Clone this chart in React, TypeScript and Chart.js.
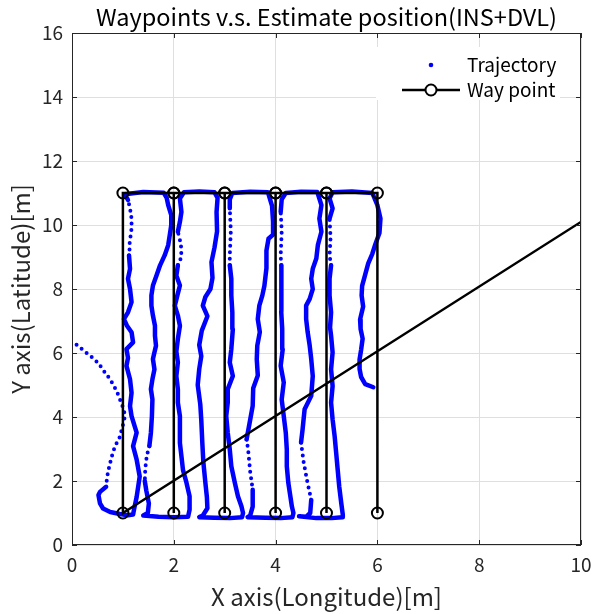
import { useEffect, useRef } from "react";
import { Chart, registerables } from "chart.js";

Chart.register(...registerables);

const FONT = '"Noto Sans CJK JP", "Noto Sans", sans-serif';

const chartTitle = "Waypoints v.s. Estimate position(INS+DVL)";
const xAxisTitle = "X axis(Longitude)[m]";
const yAxisTitle = "Y axis(Latitude)[m]";
const trajectoryLabel = "Trajectory";
const waypointLabel = "Way point";

const xTicks = [0, 2, 4, 6, 8, 10];
const yTicks = [0, 2, 4, 6, 8, 10, 12, 14, 16];

// Waypoint route (first point lies beyond the axes, so only the line toward it shows)
const waypoints: [number, number][] = [
  [12, 12.12],
  [1, 1], [1, 11], [2, 11], [2, 1], [2, 11], [3, 11], [3, 1], [3, 11],
  [4, 11], [4, 1], [4, 11], [5, 11], [5, 1], [5, 11], [6, 11], [6, 1],
];

// Estimated trajectory: [x, y, fast] — fast = 1 means sparse sampling toward next point
const trajectory: [number, number, number][] = [
  [0.09, 6.26, 1], [0.25, 6.05, 1], [0.39, 5.87, 1], [0.52, 5.68, 1], [0.61, 5.47, 1],
  [0.71, 5.26, 1], [0.8, 5.04, 1], [0.88, 4.8, 1], [0.95, 4.52, 1], [1.02, 4.22, 1],
  [1.04, 4.02, 1], [1.0, 3.75, 1], [0.94, 3.38, 1], [0.84, 3.07, 1], [0.78, 2.76, 1],
  [0.73, 2.44, 1], [0.69, 2.13, 1], [0.67, 1.82, 0],
  [0.55, 1.66, 0], [0.52, 1.56, 0], [0.55, 1.3, 0], [0.61, 1.14, 0], [0.75, 1.03, 0],
  [0.94, 0.97, 0], [1.1, 0.93, 0], [1.2, 0.95, 0],
  [1.22, 1.12, 0], [1.27, 1.5, 0], [1.33, 2.14, 0], [1.27, 2.67, 0], [1.2, 3.09, 0],
  [1.27, 3.51, 0], [1.17, 4.03, 0], [1.14, 4.34, 0], [1.17, 4.76, 0], [1.14, 5.18, 0],
  [1.07, 5.6, 0], [1.1, 5.85, 0], [1.07, 6.12, 0], [1.2, 6.33, 0], [1.17, 6.65, 0],
  [1.08, 6.85, 0], [1.02, 7.06, 0], [1.1, 7.27, 0], [1.17, 7.59, 0], [1.14, 8.0, 0],
  [1.1, 8.32, 0], [1.14, 8.63, 0], [1.12, 9.05, 1], [1.13, 9.4, 1], [1.17, 9.89, 1],
  [1.17, 10.2, 1], [1.14, 10.52, 1], [1.1, 10.78, 0], [1.04, 10.96, 0],
  [1.4, 11.03, 0], [1.8, 11.01, 0],
  [1.86, 10.85, 0], [1.89, 10.62, 0], [1.95, 10.31, 0], [1.95, 10.0, 0], [1.92, 9.68, 0],
  [1.89, 9.37, 0], [1.82, 9.05, 0], [1.73, 8.74, 0], [1.66, 8.42, 0], [1.59, 8.11, 0],
  [1.56, 7.8, 0], [1.56, 7.48, 0], [1.59, 7.17, 0], [1.63, 6.85, 0], [1.63, 6.54, 0],
  [1.65, 6.23, 0], [1.61, 5.95, 0], [1.59, 5.81, 0], [1.62, 5.49, 0], [1.58, 5.18, 0],
  [1.55, 4.87, 0], [1.58, 4.55, 0], [1.57, 4.03, 0], [1.55, 3.51, 0], [1.52, 3.09, 1],
  [1.47, 2.8, 1], [1.44, 2.4, 1], [1.43, 2.0, 0], [1.46, 1.7, 0], [1.51, 1.3, 0],
  [1.49, 1.0, 0], [1.4, 0.92, 0],
  [1.7, 0.88, 0], [2.0, 0.87, 0], [2.28, 0.88, 0],
  [2.31, 1.1, 0], [2.31, 1.52, 0], [2.25, 1.94, 0], [2.18, 2.35, 0], [2.15, 2.77, 0],
  [2.12, 3.19, 0], [2.12, 3.61, 0], [2.12, 4.03, 0], [2.08, 4.45, 0], [2.08, 4.87, 0],
  [2.05, 5.28, 0], [2.08, 5.71, 0], [2.05, 6.05, 0], [2.08, 6.44, 0], [2.12, 6.85, 0],
  [2.08, 7.17, 0], [2.02, 7.48, 0], [2.07, 7.8, 0], [2.12, 8.11, 0], [2.05, 8.42, 0],
  [2.08, 8.74, 1], [2.15, 9.0, 1], [2.14, 9.4, 1], [2.08, 9.79, 0], [2.12, 10.1, 0],
  [2.15, 10.41, 0], [2.12, 10.83, 0], [2.2, 11.02, 0],
  [2.5, 11.05, 0], [2.8, 11.02, 0],
  [2.86, 10.85, 0], [2.84, 10.4, 0], [2.85, 9.8, 0], [2.8, 9.3, 0], [2.74, 8.84, 0],
  [2.76, 8.35, 0], [2.72, 8.0, 0], [2.62, 7.75, 0], [2.57, 7.48, 0], [2.66, 7.15, 0],
  [2.55, 6.7, 0], [2.5, 6.25, 0], [2.54, 5.9, 0], [2.5, 5.5, 0], [2.47, 5.0, 0],
  [2.52, 4.4, 0], [2.54, 3.9, 0], [2.56, 3.2, 0], [2.58, 2.6, 0], [2.62, 1.95, 0],
  [2.65, 1.5, 0], [2.66, 1.15, 0], [2.57, 0.92, 0], [2.5, 0.87, 0],
  [2.8, 0.85, 0], [3.1, 0.84, 0], [3.34, 0.87, 0],
  [3.36, 1.0, 0], [3.33, 1.2, 0], [3.26, 1.52, 0], [3.2, 1.94, 0], [3.13, 2.46, 0],
  [3.1, 2.98, 0], [3.06, 3.51, 0], [3.03, 4.03, 0], [3.06, 4.45, 0], [3.06, 4.87, 0],
  [3.16, 5.28, 0], [3.1, 5.7, 0], [3.13, 6.12, 0], [3.16, 6.75, 0], [3.15, 7.27, 0],
  [3.13, 7.8, 0], [3.13, 8.32, 0], [3.1, 8.74, 1], [3.1, 9.05, 1], [3.12, 9.8, 1],
  [3.1, 10.52, 0], [3.1, 10.8, 0], [3.15, 11.0, 0],
  [3.5, 11.04, 0], [3.85, 11.02, 0],
  [3.93, 10.6, 0], [3.95, 10.1, 0], [3.95, 9.7, 0], [3.86, 9.57, 0], [3.82, 9.2, 0],
  [3.82, 8.65, 0], [3.78, 8.1, 0], [3.74, 7.8, 0], [3.68, 7.48, 0], [3.65, 7.06, 0],
  [3.69, 6.65, 0], [3.64, 6.23, 0], [3.63, 5.8, 0], [3.65, 5.3, 0], [3.56, 4.9, 0],
  [3.55, 4.35, 0], [3.49, 3.82, 0], [3.43, 3.3, 1], [3.46, 2.98, 1], [3.5, 2.3, 1],
  [3.55, 1.73, 0], [3.55, 1.2, 0], [3.5, 0.92, 0], [3.45, 0.87, 0],
  [3.8, 0.85, 0], [4.1, 0.84, 0], [4.33, 0.87, 0],
  [4.35, 1.0, 0], [4.32, 1.2, 0], [4.29, 1.52, 0], [4.25, 1.94, 0], [4.22, 2.46, 0],
  [4.22, 2.98, 0], [4.2, 3.51, 0], [4.16, 4.03, 0], [4.12, 4.55, 0], [4.16, 5.08, 0],
  [4.1, 5.6, 0], [4.14, 6.12, 0], [4.13, 6.75, 0], [4.11, 7.3, 0], [4.12, 7.8, 0],
  [4.11, 8.3, 0], [4.11, 8.74, 1], [4.1, 9.05, 1], [4.12, 9.8, 1], [4.1, 10.41, 0],
  [4.12, 10.8, 0], [4.2, 11.0, 0],
  [4.5, 11.04, 0], [4.82, 11.03, 0],
  [4.9, 10.62, 0], [4.86, 10.2, 0], [4.9, 9.79, 0], [4.83, 9.37, 0], [4.8, 8.95, 0],
  [4.73, 8.63, 0], [4.7, 8.32, 0], [4.73, 8.0, 0], [4.67, 7.69, 0], [4.6, 7.48, 0],
  [4.6, 7.06, 0], [4.63, 6.65, 0], [4.67, 6.23, 0], [4.7, 5.81, 0], [4.73, 5.28, 0],
  [4.7, 4.66, 0], [4.57, 4.24, 0], [4.53, 3.61, 0], [4.5, 3.2, 1], [4.55, 2.6, 1],
  [4.62, 2.0, 1], [4.7, 1.41, 0], [4.68, 1.0, 0], [4.6, 0.88, 0], [4.46, 0.9, 0],
  [4.8, 0.84, 0], [5.1, 0.84, 0], [5.31, 0.87, 0],
  [5.32, 0.95, 0], [5.29, 1.31, 0], [5.25, 1.83, 0], [5.22, 2.35, 0], [5.19, 2.88, 0],
  [5.16, 3.4, 0], [5.12, 3.92, 0], [5.09, 4.45, 0], [5.12, 4.97, 0], [5.09, 5.49, 0],
  [5.12, 6.02, 0], [5.09, 6.54, 0], [5.07, 6.8, 0], [5.09, 7.27, 0], [5.06, 7.8, 0],
  [5.06, 8.32, 0], [5.09, 8.74, 1], [5.06, 9.05, 1], [5.08, 9.6, 1], [5.06, 10.2, 0],
  [5.12, 10.52, 0], [5.06, 10.83, 0], [5.12, 11.02, 0],
  [5.5, 11.05, 0], [5.9, 11.0, 0],
  [6.0, 10.62, 0], [6.06, 10.2, 0], [6.04, 9.75, 0], [5.96, 9.4, 0], [5.9, 9.1, 0],
  [5.82, 8.8, 0], [5.76, 8.45, 0], [5.7, 8.1, 0], [5.69, 7.8, 0], [5.72, 7.45, 0],
  [5.66, 7.05, 0], [5.67, 6.75, 0], [5.71, 6.45, 0], [5.68, 6.1, 0], [5.65, 5.8, 0],
  [5.65, 5.5, 0], [5.68, 5.25, 0], [5.76, 5.03, 0], [5.92, 4.93, 0],
];

const AXIS = "#262626";

const framePlugin = {
  id: "matlabFrame",
  afterDatasetsDraw(chart: any) {
    const { ctx, chartArea: a, scales } = chart;
    const xs = scales.x;
    const ys = scales.y;
    ctx.save();

    // legend box (inside top-right)
    const lx = a.right - 205;
    const ly = a.top + 14;
    ctx.fillStyle = "#ffffff";
    ctx.fillRect(lx, ly, 184, 53);
    ctx.fillStyle = "#0000ff";
    ctx.beginPath();
    ctx.arc(lx + 55, ly + 18, 2.3, 0, Math.PI * 2);
    ctx.fill();
    ctx.strokeStyle = "#000";
    ctx.lineWidth = 2.5;
    ctx.beginPath();
    ctx.moveTo(lx + 26, ly + 43);
    ctx.lineTo(lx + 84, ly + 43);
    ctx.stroke();
    ctx.lineWidth = 2;
    ctx.fillStyle = "#fff";
    ctx.beginPath();
    ctx.arc(lx + 55, ly + 43, 5.5, 0, Math.PI * 2);
    ctx.fill();
    ctx.stroke();
    ctx.fillStyle = "#000";
    ctx.font = `19px ${FONT}`;
    ctx.textAlign = "left";
    ctx.textBaseline = "middle";
    ctx.fillText(trajectoryLabel, lx + 91, ly + 18);
    ctx.fillText(waypointLabel, lx + 91, ly + 43);

    // axes box with inward ticks
    ctx.strokeStyle = AXIS;
    ctx.lineWidth = 1;
    ctx.strokeRect(a.left + 0.5, a.top + 0.5, a.right - a.left - 1, a.bottom - a.top - 1);
    ctx.beginPath();
    const tl = 5;
    for (const v of xTicks) {
      const px = Math.round(xs.getPixelForValue(v)) + 0.5;
      ctx.moveTo(px, a.bottom);
      ctx.lineTo(px, a.bottom - tl);
      ctx.moveTo(px, a.top);
      ctx.lineTo(px, a.top + tl);
    }
    for (const v of yTicks) {
      const py = Math.round(ys.getPixelForValue(v)) + 0.5;
      ctx.moveTo(a.left, py);
      ctx.lineTo(a.left + tl, py);
      ctx.moveTo(a.right, py);
      ctx.lineTo(a.right - tl, py);
    }
    ctx.stroke();

    // titles
    ctx.fillStyle = "#000";
    ctx.font = `23.5px ${FONT}`;
    ctx.textAlign = "center";
    ctx.textBaseline = "middle";
    ctx.fillText(chartTitle, (a.left + a.right) / 2, 17);
    ctx.fillStyle = AXIS;
    ctx.font = `24px ${FONT}`;
    ctx.fillText(xAxisTitle, (a.left + a.right) / 2, 597);
    ctx.translate(21, (a.top + a.bottom) / 2);
    ctx.rotate(-Math.PI / 2);
    ctx.fillText(yAxisTitle, 0, 0);
    ctx.restore();
  },
};

export default function App() {
  const ref = useRef<HTMLCanvasElement | null>(null);

  useEffect(() => {
    document.body.style.margin = "0";
    const canvas = ref.current;
    if (!canvas) return;
    const isFast = (i: number) => trajectory[i] && trajectory[i][2] === 1;
    const chart = new Chart(canvas, {
      type: "scatter",
      data: {
        datasets: [
          {
            label: waypointLabel,
            data: waypoints.map(([x, y]) => ({ x, y })),
            showLine: true,
            borderColor: "#000000",
            borderWidth: 2.5,
            pointRadius: 5.5,
            pointBorderWidth: 2,
            pointBorderColor: "#000000",
            pointBackgroundColor: "rgba(0,0,0,0)",
            order: 0,
            clip: 0,
          } as any,
          {
            label: trajectoryLabel,
            data: trajectory.map(([x, y]) => ({ x, y })),
            showLine: true,
            borderColor: "#0000ff",
            borderWidth: 4.5,
            borderCapStyle: "round",
            borderJoinStyle: "round",
            pointRadius: 0,
            order: 1,
            segment: {
              borderDash: (c: any) => (isFast(c.p0DataIndex) ? [0, 6.5] : undefined),
              borderWidth: (c: any) => (isFast(c.p0DataIndex) ? 4 : undefined),
            },
          } as any,
        ],
      },
      options: {
        animation: false,
        responsive: false,
        devicePixelRatio: 1,
        events: [],
        layout: { padding: { left: 0, right: 13, top: 33, bottom: 0 } },
        plugins: { legend: { display: false }, tooltip: { enabled: false }, title: { display: false } },
        scales: {
          x: {
            type: "linear",
            min: 0,
            max: 10,
            afterBuildTicks: (s: any) => {
              s.ticks = xTicks.map((v) => ({ value: v }));
            },
            afterFit: (s: any) => {
              s.height = 69;
              s.paddingLeft = 0;
              s.paddingRight = 0;
            },
            ticks: { color: AXIS, font: { family: FONT, size: 19 }, padding: 8, maxRotation: 0 },
            grid: { color: "#dfdfdf", lineWidth: 1, drawTicks: false },
            border: { display: false },
          },
          y: {
            type: "linear",
            min: 0,
            max: 16,
            afterBuildTicks: (s: any) => {
              s.ticks = yTicks.map((v) => ({ value: v }));
            },
            afterFit: (s: any) => {
              s.width = 72;
              s.paddingTop = 0;
              s.paddingBottom = 0;
            },
            ticks: { color: AXIS, font: { family: FONT, size: 19 }, padding: 9 },
            grid: { color: "#dfdfdf", lineWidth: 1, drawTicks: false },
            border: { display: false },
          },
        },
      },
      plugins: [framePlugin],
    });
    return () => chart.destroy();
  }, []);

  return (
    <div style={{ width: 594, height: 614 }}>
      <canvas ref={ref} width={594} height={614} style={{ display: "block" }} />
    </div>
  );
}
